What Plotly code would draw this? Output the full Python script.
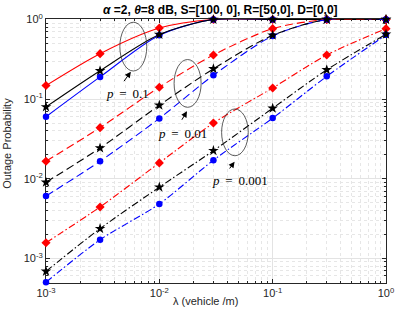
import plotly.graph_objects as go

# ---------------- data ----------------
lam = [1e-3, 3e-3, 1e-2, 3e-2, 1e-1, 3e-1, 1.0]

p01_red = [0.148, 0.372, 0.78, 1.0, 1.0, 1.0, 1.0]
p01_black = [0.0798, 0.227, 0.646, 1.0, 1.0, 1.0, 1.0]
p01_blue = [0.060, 0.190, 0.634, 1.0, 1.0, 1.0, 1.0]

p001_red = [0.0166, 0.0438, 0.141, 0.358, 0.767, 1.0, 1.0]
p001_black = [0.00902, 0.0243, 0.0836, 0.240, 0.634, 1.0, 1.0]
p001_blue = [0.00605, 0.0166, 0.0572, 0.199, 0.620, 1.0, 1.0]

p0001_red = [0.00157, 0.00442, 0.0158, 0.050, 0.138, 0.358, 0.767]
p0001_black = [0.000686, 0.00236, 0.00782, 0.0225, 0.0767, 0.233, 0.652]
p0001_blue = [0.000501, 0.00171, 0.00482, 0.0171, 0.0577, 0.193, 0.641]

tick_vals = [1e-3, 1e-2, 1e-1, 1.0]
tick_text = ["10<sup>-3</sup>", "10<sup>-2</sup>", "10<sup>-1</sup>", "10<sup>0</sup>"]
minor_vals = [m * d for d in (1e-3, 1e-2, 1e-1) for m in range(2, 10)]
minor_vals_y = [m * d for d in (1e-4, 1e-3, 1e-2, 1e-1) for m in range(2, 10)]

# ---------------- geometry helpers (pixel -> paper) ----------------
W, H = 406, 316
L, R, T, B = 46, 394.5, 15.7, 282.7


def xp(px):
    return (px - L) / (R - L)


def yp(py):
    return (B - py) / (B - T)


fig = go.Figure()

RED, BLACK, BLUE = "#ff0000", "#000000", "#0000ff"
DASH = "8px,4px"
DASHDOT = "7px,2.5px,1.5px,2.5px"

groups = [
    ("solid", p01_red, p01_black, p01_blue),
    (DASH, p001_red, p001_black, p001_blue),
    (DASHDOT, p0001_red, p0001_black, p0001_blue),
]

for dash, red, black, blue in groups:
    for ys, col, sym, size in [
        (red, RED, "diamond", 7),
        (blue, BLUE, "circle", 6.5),
        (black, BLACK, "star", 8),
    ]:
        fig.add_trace(
            go.Scatter(
                x=lam,
                y=ys,
                mode="lines+markers",
                line=dict(color=col, width=1.1, dash=dash, shape="spline", smoothing=0.8),
                marker=dict(symbol=sym, size=size, color=col, line=dict(width=0)),
                cliponaxis=False,
                showlegend=False,
                hoverinfo="skip",
            )
        )

axis_common = dict(
    type="log",
    showline=True,
    linecolor="#262626",
    linewidth=1,
    mirror="allticks",
    ticks="inside",
    ticklen=4,
    tickcolor="#262626",
    tickwidth=1,
    showgrid=True,
    gridcolor="#e3e3e3",
    gridwidth=1,
    zeroline=False,
    tickmode="array",
    tickvals=tick_vals,
    ticktext=tick_text,
    tickfont=dict(family="Liberation Sans, Arial", size=11, color="#262626"),
    layer="below traces",
)

minor_common = dict(
    tickmode="array",
    ticks="inside",
    ticklen=2,
    tickcolor="#262626",
    showgrid=True,
    gridcolor="#e6e6e6",
    griddash="dot",
    gridwidth=1,
)

fig.update_xaxes(**axis_common, range=[-3, 0], minor=dict(**minor_common, tickvals=minor_vals))
fig.update_yaxes(**axis_common, range=[-3.31, 0.006], minor=dict(**minor_common, tickvals=minor_vals_y))

# ellipses
ell_col = "#333333"
for (x0, x1, y0, y1) in [
    (121.7, 149.3, 68.3, 19.0),
    (177.3, 205.0, 105.0, 56.7),
    (226.0, 253.3, 154.0, 106.7),
]:
    fig.add_shape(
        type="circle",
        xref="paper",
        yref="paper",
        x0=xp(x0),
        x1=xp(x1),
        y0=yp(y0),
        y1=yp(y1),
        line=dict(color=ell_col, width=0.8),
    )

# arrows (tail -> tip)
for (tx, ty, hx, hy) in [
    (125.0, 80.0, 133.0, 69.0),
    (184.5, 119.0, 190.5, 109.0),
    (233.3, 168.3, 239.3, 160.0),
]:
    fig.add_annotation(
        x=xp(hx),
        y=yp(hy),
        xref="paper",
        yref="paper",
        ax=tx - hx,
        ay=ty - hy,
        text="",
        showarrow=True,
        arrowhead=2,
        arrowsize=1.2,
        arrowwidth=1,
        arrowcolor="#000000",
    )

lab_font = dict(family="Liberation Serif, Times New Roman", size=13, color="#000000")
for (txt, cx, cy) in [
    ("<i>p</i> \u2009=\u2009 0.1", 129.3, 91.0),
    ("<i>p</i> \u2009=\u2009 0.01", 186.3, 131.7),
    ("<i>p</i> \u2009=\u2009 0.001", 245.0, 179.0),
]:
    fig.add_annotation(
        x=xp(cx), y=yp(cy), xref="paper", yref="paper", text=txt,
        showarrow=False, font=lab_font, xanchor="center", yanchor="middle",
    )

# title
fig.add_annotation(
    x=xp(224.6), y=yp(6.5), xref="paper", yref="paper",
    text="<b><i>α</i> =2, <i>θ</i>=8 dB, S=[100, 0], R=[50,0], D=[0,0]</b>",
    showarrow=False, xanchor="center", yanchor="middle",
    font=dict(family="Liberation Sans, Arial", size=12, color="#000000"),
)
# axis labels
fig.add_annotation(
    x=xp(209.5), y=yp(301), xref="paper", yref="paper",
    text="λ (vehicle /m)", showarrow=False, xanchor="center", yanchor="middle",
    font=dict(family="Liberation Sans, Arial", size=11, color="#262626"),
)
fig.add_annotation(
    x=xp(6.5), y=yp(141.5), xref="paper", yref="paper",
    text="Outage Probability", showarrow=False, textangle=-90,
    xanchor="center", yanchor="middle",
    font=dict(family="Liberation Sans, Arial", size=11, color="#262626"),
)

fig.update_layout(
    width=W,
    height=H,
    margin=dict(l=L, r=W - R, t=T, b=H - B, pad=0),
    paper_bgcolor="white",
    plot_bgcolor="white",
    showlegend=False,
)

fig.write_html(
    "out.html",
    config={"displayModeBar": False, "staticPlot": True},
    post_script="document.body.style.margin='0';document.body.style.overflow='hidden';",
)
